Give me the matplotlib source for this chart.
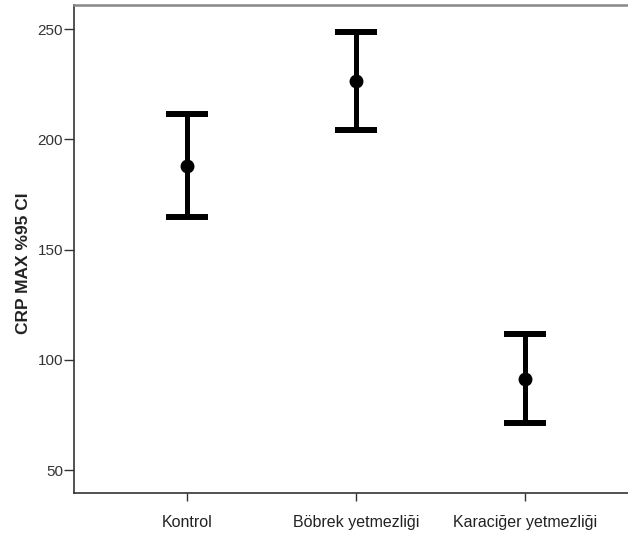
import matplotlib
matplotlib.use("Agg")
import matplotlib.pyplot as plt

categories = ["Kontrol", "Böbrek yetmezliği", "Karaciğer yetmezliği"]
means = [188.1, 226.6, 91.4]
upper = [211.5, 248.9, 111.8]
lower = [164.9, 204.4, 71.5]
yticks = [50, 100, 150, 200, 250]

plt.rcParams['font.family'] = ['Liberation Sans', 'DejaVu Sans']

fig = plt.figure(figsize=(6.28, 5.35), dpi=100)
ax = fig.add_axes([74/628, 42/535, 564/628, 488/535])

x = [1, 2, 3]
yerr = [[m - l for m, l in zip(means, lower)], [u - m for m, u in zip(means, upper)]]
ax.errorbar(x, means, yerr=yerr, fmt='o', color='black', ecolor='black',
            elinewidth=3.6, capsize=15, capthick=4.3, markersize=9, zorder=3)

ax.set_xlim(0.33, 3.67)
ax.set_ylim(39.6, 261)
ax.set_yticks(yticks)
ax.set_xticks(x)
ax.set_xticklabels(categories)

ax.tick_params(axis='y', length=7, width=1, colors='#333333', labelsize=11, labelcolor='#333333', pad=1)
ax.tick_params(axis='x', length=6, width=1, colors='#333333', labelsize=11.5, labelcolor='#222222', pad=10)

for s in ['left', 'bottom']:
    ax.spines[s].set_color('#333333')
    ax.spines[s].set_linewidth(1.2)
ax.spines['top'].set_color('#888888')
ax.spines['top'].set_linewidth(1.8)
ax.spines['right'].set_visible(False)

ax.set_ylabel("CRP MAX %95 CI", fontsize=12.5, fontweight='bold', color='#222222')
ax.yaxis.set_label_coords(-0.076, 0.47)

fig.savefig("out.png", dpi=100)
